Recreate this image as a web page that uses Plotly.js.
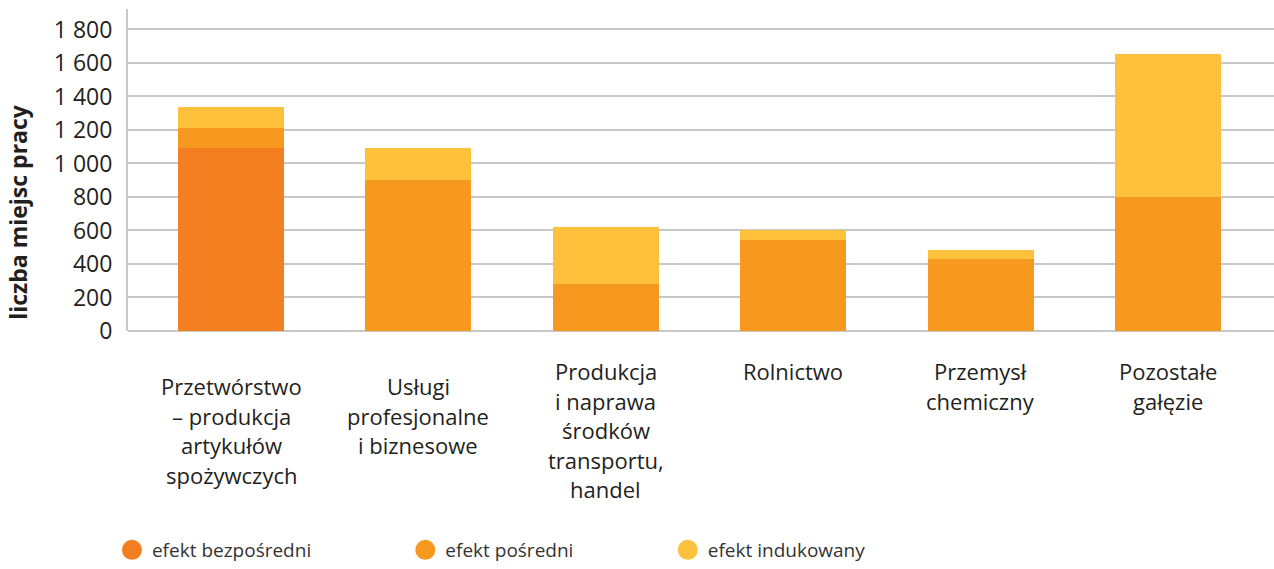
<!DOCTYPE html>
<html>
<head>
<meta charset="utf-8">
<script src="https://cdn.plot.ly/plotly-3.0.1.min.js"></script>
<style>
  html, body { margin: 0; padding: 0; background: #fff; }
  #plot { width: 1274px; height: 569px; }
</style>
</head>
<body>
<div id="plot"></div>
<script>
// categories (sectors) and job counts per effect
const categories = [
  'Przetwórstwo<br>– produkcja<br>artykułów<br>spożywczych',
  'Usługi<br>profesjonalne<br>i biznesowe',
  'Produkcja<br>i naprawa<br>środków<br>transportu,<br>handel',
  'Rolnictwo',
  'Przemysł<br>chemiczny',
  'Pozostałe<br>gałęzie'
];
const direct = [1090, 0, 0, 0, 0, 0];
const indirect = [120, 900, 280, 545, 430, 800];
const induced = [130, 190, 340, 55, 55, 855];
const seriesNames = ['efekt bezpośredni', 'efekt pośredni', 'efekt indukowany'];
const yTickVals = [0, 200, 400, 600, 800, 1000, 1200, 1400, 1600, 1800];

const colors = ['#f47f21', '#f8991f', '#fdc13c'];
const font = '"Open Sans", Lato, sans-serif';
const textColor = '#231f20';
const idx = categories.map((c, i) => i);

const values = [direct, indirect, induced];
const traces = [];
values.forEach((v, k) => {
  traces.push({
    type: 'bar',
    x: idx,
    y: v,
    name: seriesNames[k],
    marker: {color: colors[k]},
    showlegend: false,
    hoverinfo: 'y'
  });
});
// legend entries as round markers, one legend each so they sit where the original does
const legendX = [-0.014, 0.242, 0.471];
seriesNames.forEach((n, k) => {
  traces.push({
    type: 'scatter',
    mode: 'markers',
    x: [null],
    y: [null],
    name: n,
    marker: {color: colors[k], size: 22, symbol: 'circle', line: {color: colors[k], width: 4}},
    legend: k === 0 ? 'legend' : 'legend' + (k + 1),
    showlegend: true
  });
});

// category labels as separate lines (wider line spacing than plotly gives)
const annotations = [];
const firstLineShift = [-55, -55, -40, -40, -40, -40];
categories.forEach((c, i) => {
  c.split('<br>').forEach((line, j) => {
    annotations.push({
      x: i, xref: 'x',
      y: 0, yref: 'paper',
      yanchor: 'middle',
      xanchor: 'center',
      yshift: firstLineShift[i] - j * 29.5,
      text: line,
      showarrow: false,
      font: {family: font, size: 22, color: textColor}
    });
  });
});
annotations.push({
  x: -0.096, xref: 'paper', xanchor: 'center',
  y: 0.37, yref: 'paper', yanchor: 'middle',
  text: '<b>liczba miejsc pracy</b>',
  textangle: -90,
  showarrow: false,
  font: {family: font, size: 23, color: textColor}
});

function legendAt(x) {
  return {
    x: x, xref: 'paper', xanchor: 'left',
    y: -0.68, yref: 'paper', yanchor: 'middle',
    orientation: 'h',
    font: {family: font, size: 19, color: '#333'},
    itemsizing: 'trace',
    bgcolor: 'rgba(0,0,0,0)'
  };
}

const layout = {
  width: 1274,
  height: 569,
  margin: {l: 128, r: 0, t: 9, b: 238},
  paper_bgcolor: '#fff',
  plot_bgcolor: '#fff',
  barmode: 'stack',
  bargap: 0.434,
  separators: ', ',
  font: {family: font, color: textColor},
  xaxis: {
    range: [-0.55, 5.566],
    showticklabels: false,
    showgrid: false,
    zeroline: false,
    showline: false,
    fixedrange: true
  },
  yaxis: {
    range: [0, 1922],
    tickvals: yTickVals,
    separatethousands: true,
    showgrid: true,
    gridcolor: '#c8c8c8',
    gridwidth: 2,
    zeroline: true,
    zerolinecolor: '#c8c8c8',
    zerolinewidth: 2,
    showline: true,
    linecolor: '#c8c8c8',
    linewidth: 2,
    ticks: '',
    ticklabelstandoff: 9,
    tickfont: {family: font, size: 23, color: textColor},
    fixedrange: true
  },
  legend: legendAt(legendX[0]),
  legend2: legendAt(legendX[1]),
  legend3: legendAt(legendX[2]),
  annotations: annotations
};

Plotly.newPlot('plot', traces, layout, {displayModeBar: false, staticPlot: true});
</script>
</body>
</html>
